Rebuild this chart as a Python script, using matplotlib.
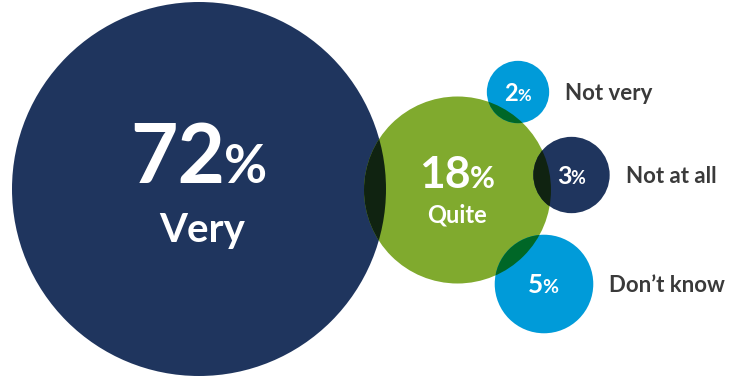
import numpy as np
import matplotlib
matplotlib.use("Agg")
import matplotlib.pyplot as plt
from matplotlib.patches import Circle
from matplotlib.colors import to_rgb

# Survey answers and their shares (%)
categories = ["Very", "Quite", "Not very", "Not at all", "Don\u2019t know"]
shares = [72, 18, 2, 3, 5]

# Bubble layout (pixel space) and fills
centers = [(199, 189), (457.5, 190), (518, 92), (571.5, 175), (544, 284)]
colors = ["#1f355e", "#80aa2e", "#009bd9", "#1f355e", "#009bd9"]
scale = 187 / np.sqrt(72)          # bubble area proportional to share
radii = [scale * np.sqrt(v) for v in shares]

W, H = 729, 378
fig = plt.figure(figsize=(W / 100, H / 100), dpi=100)
ax = fig.add_axes([0, 0, 1, 1])
ax.set_xlim(0, W)
ax.set_ylim(H, 0)
ax.set_aspect("equal")
ax.axis("off")

FONT = "Lato"
circles = []
for (cx, cy), r, c in zip(centers, radii, colors):
    p = Circle((cx, cy), r, facecolor=c, edgecolor="none", zorder=1)
    ax.add_patch(p)
    circles.append(p)

# Overlapping regions shown with a multiply blend of the two fills
n = len(circles)
for i in range(n):
    for j in range(i + 1, n):
        (x1, y1), (x2, y2) = centers[i], centers[j]
        if np.hypot(x1 - x2, y1 - y2) < radii[i] + radii[j]:
            mix = tuple(a * b for a, b in zip(to_rgb(colors[i]), to_rgb(colors[j])))
            ov = Circle((x2, y2), radii[j], facecolor=mix, edgecolor="none", zorder=2)
            ax.add_patch(ov)
            ov.set_clip_path(circles[i])

renderer = fig.canvas.get_renderer()


def pct_label(cx, baseline, value, num_size, pct_size):
    """Number and a smaller % sign, centred as one group on cx."""
    t1 = ax.text(0, baseline, str(value), fontsize=num_size, color="white",
                 fontweight="bold", family=FONT, ha="left", va="baseline", zorder=5)
    t2 = ax.text(0, baseline, "%", fontsize=pct_size, color="white",
                 fontweight="bold", family=FONT, ha="left", va="baseline", zorder=5)
    w1 = t1.get_window_extent(renderer).width
    w2 = t2.get_window_extent(renderer).width
    inv = ax.transData.inverted()
    dx1 = inv.transform((w1, 0))[0] - inv.transform((0, 0))[0]
    dx2 = inv.transform((w2, 0))[0] - inv.transform((0, 0))[0]
    left = cx - (dx1 + dx2) / 2
    t1.set_x(left)
    t2.set_x(left + dx1 - 1)


# Large bubbles: value plus category inside
pct_label(centers[0][0], centers[0][1] - 6, shares[0], 59, 38)
ax.text(centers[0][0] + 3, centers[0][1] + 53, categories[0], fontsize=29, color="white",
        fontweight="bold", family=FONT, ha="center", va="baseline", zorder=5)
pct_label(centers[1][0], centers[1][1] - 2, shares[1], 32, 22)
ax.text(centers[1][0], centers[1][1] + 32, categories[1], fontsize=17, color="white",
        fontweight="bold", family=FONT, ha="center", va="baseline", zorder=5)

# Small bubbles: value inside, category to the right
small_sizes = [(17, 12), (18, 13), (19, 14)]
for k, (ns, ps) in zip(range(2, 5), small_sizes):
    cx, cy = centers[k]
    pct_label(cx, cy + 9, shares[k], ns, ps)
    ax.text(cx + radii[k] + 16, cy + 8, categories[k], fontsize=16, color="#3a3a3a",
            fontweight="bold", family=FONT, ha="left", va="baseline", zorder=5)

fig.savefig("out.png", dpi=100, facecolor="white")
